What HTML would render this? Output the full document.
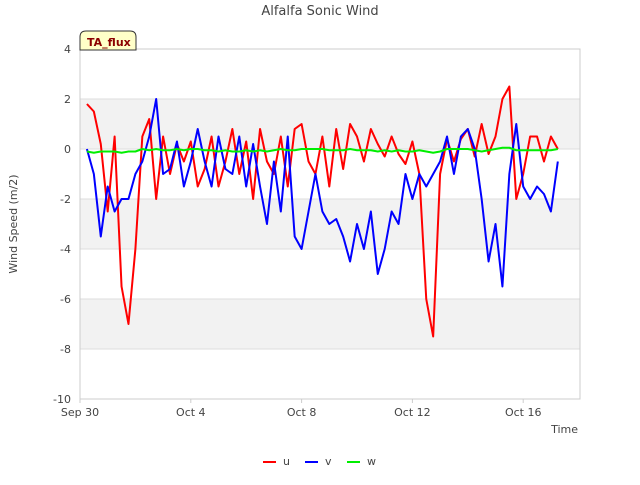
<!DOCTYPE html>
<html><head><meta charset="utf-8"><style>
body{margin:0;background:#fff;font-family:"Liberation Sans",sans-serif}
svg text{font-family:"DejaVu Sans","Liberation Sans",sans-serif}
</style></head><body>
<svg id="c" width="640" height="480" xmlns="http://www.w3.org/2000/svg">
<text x="320" y="15" text-anchor="middle" font-size="13" fill="#444">Alfalfa Sonic Wind</text>
<g id="bands"></g><g id="grid"></g>
<rect x="80" y="49" width="500" height="350" fill="none" stroke="#ccc"/>
<g id="series"></g><g id="ticks"></g>
<text transform="translate(17,224) rotate(-90)" text-anchor="middle" font-size="11" fill="#444">Wind Speed (m/2)</text>
<text x="578" y="433" text-anchor="end" font-size="11" fill="#444">Time</text>
<g>
<path d="M80,50 L80,37 Q80,31 86,31 L130,31 Q136,31 136,37 L136,50 Z" fill="#ffffc8" stroke="#333"/>
<text x="87" y="46" font-size="11" font-weight="bold" fill="#8b0000">TA_flux</text></g>
<g>
<line x1="263" y1="462" x2="276" y2="462" stroke="#f00" stroke-width="2"/>
<text x="283" y="465" font-size="11" fill="#444">u</text>
<line x1="305" y1="462" x2="318" y2="462" stroke="#00f" stroke-width="2"/>
<text x="325" y="465" font-size="11" fill="#444">v</text>
<line x1="347" y1="462" x2="360" y2="462" stroke="#0e0" stroke-width="2"/>
<text x="367" y="465" font-size="11" fill="#444">w</text>
</g>
</svg>
<script>
const days=[0.25,0.5,0.75,1,1.25,1.5,1.75,2,2.25,2.5,2.75,3,3.25,3.5,3.75,4,4.25,4.5,4.75,5,5.25,5.5,5.75,6,6.25,6.5,6.75,7,7.25,7.5,7.75,8,8.25,8.5,8.75,9,9.25,9.5,9.75,10,10.25,10.5,10.75,11,11.25,11.5,11.75,12,12.25,12.5,12.75,13,13.25,13.5,13.75,14,14.25,14.5,14.75,15,15.25,15.5,15.75,16,16.25,16.5,16.75,17,17.25];
const uVals=[1.8,1.5,0.2,-2.5,0.5,-5.5,-7.0,-4.0,0.5,1.2,-2.0,0.5,-1.0,0.2,-0.5,0.3,-1.5,-0.8,0.5,-1.5,-0.5,0.8,-1.0,0.3,-2.0,0.8,-0.5,-1.0,0.5,-1.5,0.8,1.0,-0.5,-1.0,0.5,-1.5,0.8,-0.8,1.0,0.5,-0.5,0.8,0.2,-0.3,0.5,-0.2,-0.6,0.3,-1.0,-6.0,-7.5,-1.0,0.4,-0.5,0.4,0.8,-0.3,1.0,-0.2,0.5,2.0,2.5,-2.0,-1.0,0.5,0.5,-0.5,0.5,0.0];
const vVals=[0.0,-1.0,-3.5,-1.5,-2.5,-2.0,-2.0,-1.0,-0.5,0.5,2.0,-1.0,-0.8,0.3,-1.5,-0.5,0.8,-0.5,-1.5,0.5,-0.8,-1.0,0.5,-1.5,0.2,-1.5,-3.0,-0.5,-2.5,0.5,-3.5,-4.0,-2.5,-1.0,-2.5,-3.0,-2.8,-3.5,-4.5,-3.0,-4.0,-2.5,-5.0,-4.0,-2.5,-3.0,-1.0,-2.0,-1.0,-1.5,-1.0,-0.5,0.5,-1.0,0.5,0.8,0.0,-2.0,-4.5,-3.0,-5.5,-1.0,1.0,-1.5,-2.0,-1.5,-1.8,-2.5,-0.5];
const wVals=[-0.1,-0.15,-0.1,-0.1,-0.1,-0.15,-0.1,-0.1,0,-0.05,0,-0.05,-0.05,0,-0.05,0,0,-0.05,-0.05,-0.1,-0.05,-0.1,-0.1,-0.05,-0.1,-0.05,-0.1,-0.05,0,-0.05,-0.05,0,0,0,0,-0.05,-0.05,-0.05,0,-0.05,-0.05,-0.05,-0.1,-0.05,-0.1,-0.05,-0.1,-0.1,-0.05,-0.1,-0.15,-0.1,0,0,0,0,-0.05,-0.1,-0.05,0,0.05,0.05,-0.05,-0.05,-0.05,-0.05,-0.05,-0.05,0];
const yTicks=[4,2,0,-2,-4,-6,-8,-10];
const xTickDays=[0,4,8,12,16];
const xTickLabels=["Sep 30","Oct 4","Oct 8","Oct 12","Oct 16"];
const NS='http://www.w3.org/2000/svg';
const X=d=>80+d*27.7, Y=v=>149-v*25;
function mk(t,a,p){const e=document.createElementNS(NS,t);for(const k in a)e.setAttribute(k,a[k]);p.appendChild(e);return e;}
const bands=document.getElementById('bands'),grid=document.getElementById('grid'),ticks=document.getElementById('ticks');
[[2,0],[-2,-4],[-6,-8]].forEach(b=>{const r=mk('rect',{x:80,y:Y(b[0]),width:500,height:Y(b[1])-Y(b[0]),fill:'#f2f2f2'},bands);

});
yTicks.forEach(v=>{const l=mk('line',{x1:80,x2:580,y1:Y(v),y2:Y(v),stroke:'#ddd'},grid);


const t=mk('text',{x:71,y:Y(v)+4,'text-anchor':'end','font-size':11,fill:'#444'},ticks);t.textContent=v;

});
xTickDays.forEach((d,i)=>{const t=mk('text',{x:X(d),y:416,'text-anchor':'middle','font-size':11,fill:'#444'},ticks);t.textContent=xTickLabels[i];


const l=mk('line',{x1:X(d),x2:X(d),y1:399,y2:403,stroke:'#ccc'},ticks);

});
const s=document.getElementById('series');
[[uVals,'#f00','u'],[vVals,'#00f','v'],[wVals,'#0e0','w']].forEach(([vals,c,n])=>{
const p=mk('polyline',{points:vals.map((v,i)=>X(days[i])+','+Y(v)).join(' '),fill:'none',stroke:c,'stroke-width':2,'stroke-linejoin':'round'},s);

});
</script>
</body></html>
